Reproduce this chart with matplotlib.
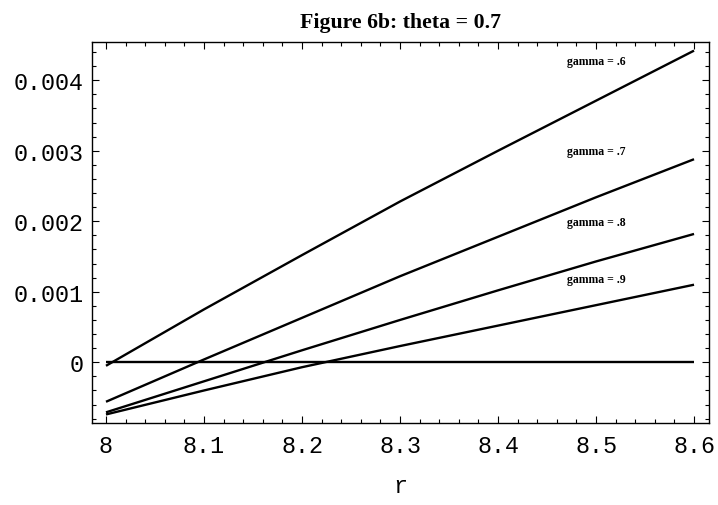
import numpy as np
import matplotlib
matplotlib.use("Agg")
import matplotlib.pyplot as plt
from matplotlib.ticker import MultipleLocator, FuncFormatter

# ==========================================
# DATA
# ==========================================
r = [8.0, 8.1, 8.2, 8.3, 8.4, 8.5, 8.6]
gamma_06 = [-0.00005, 0.00075, 0.00152, 0.00228, 0.00300, 0.00371, 0.00442]
gamma_07 = [-0.00056, 0.00004, 0.00063, 0.00122, 0.00178, 0.00234, 0.00288]
gamma_08 = [-0.00071, -0.00027, 0.00017, 0.00060, 0.00102, 0.00143, 0.00182]
gamma_09 = [-0.00074, -0.00040, -0.00007, 0.00023, 0.00052, 0.00081, 0.00110]
zero_line = [0.0] * len(r)

labels = ["gamma = .6", "gamma = .7", "gamma = .8", "gamma = .9"]
label_r = 8.5
label_y = [0.00427, 0.00299, 0.00199, 0.00118]

MONO = "Liberation Mono"
SERIF = "Liberation Serif"

# ==========================================
# PLOT
# ==========================================
fig = plt.figure(figsize=(7.18, 5.06), dpi=100)
ax = fig.add_axes([0.1281, 0.1621, 0.8594, 0.7530])

for ys in [gamma_06, gamma_07, gamma_08, gamma_09, zero_line]:
    ax.plot(r, ys, color="black", lw=1.7, solid_capstyle="butt")

for txt, yy in zip(labels, label_y):
    ax.text(label_r, yy, txt, ha="center", va="center",
            fontsize=8.5, fontweight="bold", family=SERIF)

ax.set_xlim(7.9857, 8.6153)
ax.set_ylim(-0.000861, 0.004543)

ax.xaxis.set_major_locator(MultipleLocator(0.1))
ax.xaxis.set_minor_locator(MultipleLocator(0.02))
ax.yaxis.set_major_locator(MultipleLocator(0.001))
ax.yaxis.set_minor_locator(MultipleLocator(0.0002))

ax.xaxis.set_major_formatter(FuncFormatter(lambda v, p: f"{v:g}"))
ax.yaxis.set_major_formatter(FuncFormatter(lambda v, p: "0" if abs(v) < 1e-9 else f"{v:.3f}"))

ax.tick_params(which="both", direction="in", top=True, right=True, width=0.8)
ax.tick_params(which="major", length=5)
ax.tick_params(which="minor", length=3)
ax.tick_params(axis="x", which="major", pad=8)
ax.tick_params(axis="y", which="major", pad=6)
for lab in ax.get_xticklabels() + ax.get_yticklabels():
    lab.set_family(MONO)
    lab.set_fontsize(16.8)

for sp in ax.spines.values():
    sp.set_linewidth(1.0)

ax.set_xlabel("r", family=MONO, fontsize=16.8, labelpad=12)
ax.set_title("Figure 6b: theta = 0.7", family=SERIF, fontweight="bold",
             fontsize=15.7, pad=10.5)

plt.savefig("out.png", dpi=100)
plt.close()
